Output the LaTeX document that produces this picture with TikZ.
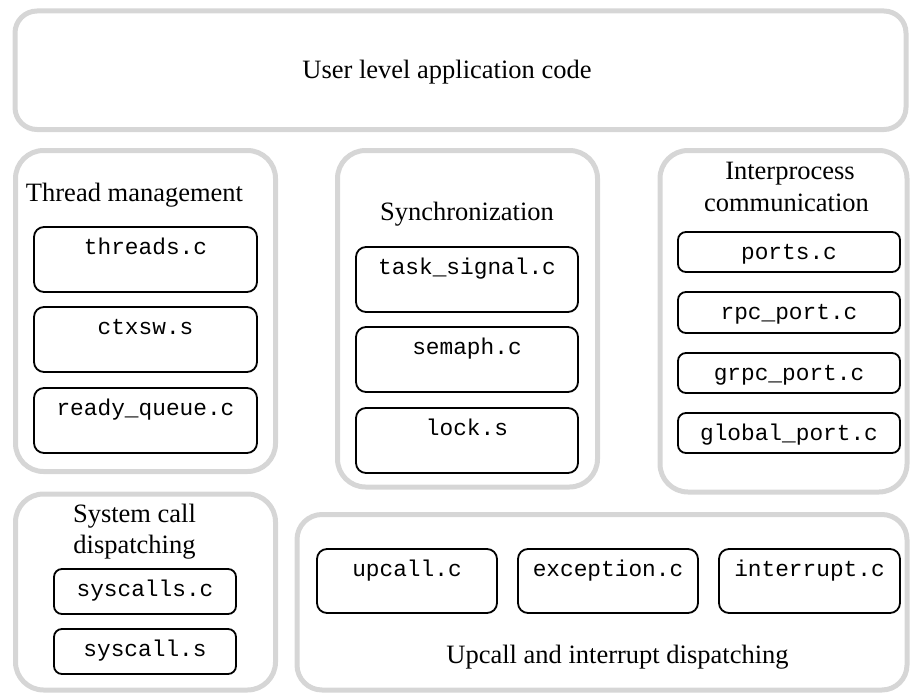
\documentclass[tikz,border=0pt]{standalone}
\usepackage{fontspec}
\setmainfont{Liberation Serif}
\setmonofont{Liberation Mono}
\usepackage{tikz}
\definecolor{panelgray}{RGB}{214,214,214}
\newcommand{\paneltitlefont}{\fontsize{26.5}{32}\selectfont}
\newcommand{\srcfilefont}{\fontsize{22.8}{27}\selectfont\ttfamily}
\tikzset{
	panel/.style={draw=panelgray, line width=5pt, rounded corners=28pt, anchor=north west, inner sep=0pt, outer sep=0pt},
	filebox/.style={draw=black, line width=1.8pt, rounded corners=10pt, anchor=north west, inner sep=0pt, outer sep=0pt, text height=27pt, font=\srcfilefont},
	paneltitle/.style={anchor=base, inner sep=0pt, font=\paneltitlefont}
}

\begin{document}
\begin{tikzpicture}[x=1pt, y=-1pt]
		%%%%% START %%%%%
		\useasboundingbox (0, 0) rectangle (910, 693);
		
		\node[panel, rounded corners=22pt, minimum width=891pt, minimum height=118.5pt] (user) at (15, 11) {};
		\node[paneltitle] (usertitle) at (447, 78.5) {User level application code};
		
		\node[panel, minimum width=260pt, minimum height=321pt] (thread) at (15.5, 150.5) {};
		\node[paneltitle] (threadtitle) at (134.5, 201) {Thread management};
		\node[filebox, minimum width=223pt, text depth=38pt] (threads) at (34, 227) {threads.c};
		\node[filebox, minimum width=223pt, text depth=38pt] (ctxsw) at (34, 307) {ctxsw.s};
		\node[filebox, minimum width=223pt, text depth=38pt] (readyq) at (34, 388) {ready\_queue.c};
		
		\node[panel, minimum width=260pt, minimum height=336.5pt] (sync) at (337.5, 150.5) {};
		\node[paneltitle] (synctitle) at (467, 220) {Synchronization};
		\node[filebox, minimum width=222pt, text depth=38pt] (tasksig) at (356, 247) {task\_signal.c};
		\node[filebox, minimum width=222pt, text depth=38pt] (semaph) at (356, 327) {semaph.c};
		\node[filebox, minimum width=222pt, text depth=38pt] (lock) at (356, 408) {lock.s};
		
		\node[panel, minimum width=247pt, minimum height=341.5pt] (ipc) at (660, 150.5) {};
		\node[paneltitle] (ipctitle) at (790, 179) {Interprocess};
		\node[paneltitle] (ipctitleb) at (786.5, 211) {communication};
		\node[filebox, minimum width=222pt, text depth=13pt, rounded corners=8pt] (ports) at (678, 232) {ports.c};
		\node[filebox, minimum width=222pt, text depth=14pt, rounded corners=8pt] (rpcport) at (678, 292) {rpc\_port.c};
		\node[filebox, minimum width=222pt, text depth=13pt, rounded corners=8pt] (grpcport) at (678, 353) {grpc\_port.c};
		\node[filebox, minimum width=222pt, text depth=13pt, rounded corners=8pt] (globalport) at (678, 413) {global\_port.c};
		
		\node[panel, minimum width=260pt, minimum height=196pt] (sys) at (15.5, 494) {};
		\node[paneltitle] (systitle) at (134.5, 522) {System call};
		\node[paneltitle] (systitleb) at (134.5, 553) {dispatching};
		\node[filebox, minimum width=182pt, text depth=18pt, rounded corners=8pt] (syscalls) at (54, 569) {syscalls.c};
		\node[filebox, minimum width=182pt, text depth=18pt, rounded corners=8pt] (syscall) at (54, 629) {syscall.s};
		
		\node[panel, rounded corners=25pt, minimum width=610pt, minimum height=175.5pt] (upcall) at (297, 514.5) {};
		\node[filebox, minimum width=180pt, text depth=37pt] (upcallc) at (317, 549) {upcall.c};
		\node[filebox, minimum width=180pt, text depth=37pt] (exception) at (518, 549) {exception.c};
		\node[filebox, minimum width=181pt, text depth=37pt] (interrupt) at (719, 549) {interrupt.c};
		\node[paneltitle] (upcalltitle) at (617.5, 663) {Upcall and interrupt dispatching};
		
		%%%%% END %%%%%
	\end{tikzpicture}
\end{document}
